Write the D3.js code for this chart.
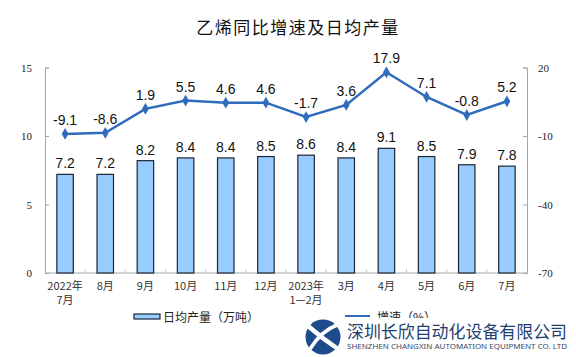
<!DOCTYPE html>
<html><head><meta charset="utf-8">
<script src="https://cdn.jsdelivr.net/npm/d3@7"></script>
<style>body{margin:0;background:#fff}svg{display:block}</style>
</head><body>
<svg id="c" width="576" height="357"></svg>
<script>
const categories = ["2022年|7月","8月","9月","10月","11月","12月","2023年|1—2月","3月","4月","5月","6月","7月"];
const output = [7.2,7.2,8.2,8.4,8.4,8.5,8.6,8.4,9.1,8.5,7.9,7.8];
const growth = [-9.1,-8.6,1.9,5.5,4.6,4.6,-1.7,3.6,17.9,7.1,-0.8,5.2];
const leftTicks = [0,5,10,15];
const rightTicks = [-70,-40,-10,20];

const svg = d3.select("#c");
const L = 45, R = 527, T = 67.5, B = 273;
const x = d3.scaleBand().domain(d3.range(categories.length)).range([L,R]).paddingInner(0.59).paddingOuter(0.295);
const xc = d3.scaleBand().domain(d3.range(categories.length)).range([L,R]);
const yL = d3.scaleLinear().domain([0,15]).range([B,T]);
const yR = d3.scaleLinear().domain([-70,20]).range([B,T]);

svg.append("text").attr("x",298).attr("y",34).attr("text-anchor","middle")
  .attr("font-family","Noto Sans CJK SC").attr("font-size",17).attr("letter-spacing",1.5).attr("fill","#111")
  .text("乙烯同比增速及日均产量");

// axes
const axC = "#a6a6a6";
const gl = svg.append("g").attr("transform",`translate(${L},0)`).call(d3.axisRight(yL).tickValues(leftTicks).tickSize(4).tickFormat(""));
gl.selectAll("path,line").attr("stroke",axC);
leftTicks.forEach(t=>svg.append("text").attr("x",32).attr("y",yL(t)+4).attr("text-anchor","end")
  .attr("font-family","Liberation Serif").attr("font-size",11).attr("fill","#222").text(t));
const gr = svg.append("g").attr("transform",`translate(${R},0)`).call(d3.axisLeft(yR).tickValues(rightTicks).tickSize(4).tickFormat(""));
gr.selectAll("path,line").attr("stroke",axC);
rightTicks.forEach(t=>svg.append("text").attr("x",538).attr("y",yR(t)+4).attr("text-anchor","start")
  .attr("font-family","Liberation Serif").attr("font-size",11).attr("fill","#222").text(t));
svg.append("line").attr("x1",L).attr("x2",R).attr("y1",B).attr("y2",B).attr("stroke",axC);
d3.range(1,categories.length).forEach(i=>svg.append("line").attr("x1",xc(i)).attr("x2",xc(i)).attr("y1",B).attr("y2",B-4).attr("stroke","#ccc"));

// bars
svg.selectAll("rect.bar").data(output).join("rect").attr("class","bar")
  .attr("x",(d,i)=>x(i)).attr("width",x.bandwidth()).attr("y",d=>yL(d)).attr("height",d=>B-yL(d))
  .attr("fill","#99ccff").attr("stroke","#1b2633").attr("stroke-width",1.2);
svg.selectAll("text.bl").data(output).join("text").attr("class","bl")
  .attr("x",(d,i)=>x(i)+x.bandwidth()/2).attr("y",d=>yL(d)-6).attr("text-anchor","middle")
  .attr("font-family","Liberation Sans").attr("font-size",14).attr("fill","#111").text(d=>d.toFixed(1));

// line
const cx = i=>x(i)+x.bandwidth()/2;
svg.append("path").datum(growth).attr("d",d3.line().x((d,i)=>cx(i)).y(d=>yR(d)))
  .attr("fill","none").attr("stroke","#2f6cbd").attr("stroke-width",2.5);
svg.selectAll("path.mk").data(growth).join("path").attr("class","mk")
  .attr("d",d3.symbol(d3.symbolDiamond,40)).attr("transform",(d,i)=>`translate(${cx(i)},${yR(d)})`).attr("fill","#2f6cbd");
svg.selectAll("text.ll").data(growth).join("text").attr("class","ll")
  .attr("x",(d,i)=>cx(i)).attr("y",d=>yR(d)-9).attr("text-anchor","middle")
  .attr("font-family","Liberation Sans").attr("font-size",14).attr("fill","#111").text(d=>d.toFixed(1));

// x labels
categories.forEach((c,i)=>{
  const parts=c.split("|");
  const t = svg.append("text").attr("text-anchor","middle")
    .attr("font-family","Noto Sans CJK SC").attr("font-size",11).attr("fill","#333");
  parts.forEach((p,j)=>t.append("tspan").attr("x",xc(i)+xc.bandwidth()/2).attr("y",290+j*13.5).text(p));
});

// legend
svg.append("rect").attr("x",134).attr("y",314).attr("width",26).attr("height",5).attr("fill","#99ccff").attr("stroke","#1b2633").attr("stroke-width",1.2);
svg.append("text").attr("x",163).attr("y",321.5).attr("font-family","Noto Sans CJK SC").attr("font-size",12).attr("fill","#222").text("日均产量（万吨）");
svg.append("line").attr("x1",345).attr("x2",370).attr("y1",316).attr("y2",316).attr("stroke","#2f6cbd").attr("stroke-width",2);
svg.append("text").attr("x",377).attr("y",321.5).attr("font-family","Noto Sans CJK SC").attr("font-size",12).attr("fill","#222").text("增速（%）");

// watermark
svg.append("rect").attr("x",300).attr("y",318).attr("width",276).attr("height",39).attr("fill","#fff");
const lg = svg.append("g").attr("transform","translate(323,337)");
lg.append("circle").attr("r",17.5).attr("fill","#1d4b8c");
lg.append("path").attr("d","M-15,-11 Q0,2 15,12").attr("stroke","#fff").attr("stroke-width",4.5).attr("fill","none");
lg.append("path").attr("d","M-13,12 Q-2,-6 14,-12").attr("stroke","#fff").attr("stroke-width",3.5).attr("fill","none");
svg.append("text").attr("x",347).attr("y",338).attr("textLength",220).attr("lengthAdjust","spacingAndGlyphs")
  .attr("font-family","Noto Sans CJK SC").attr("font-size",17.5).attr("fill","#1f3f72").text("深圳长欣自动化设备有限公司");
svg.append("text").attr("x",347).attr("y",348.5).attr("textLength",220).attr("lengthAdjust","spacingAndGlyphs")
  .attr("font-family","Noto Sans").attr("font-size",7).attr("fill","#3a4a66").text("SHENZHEN CHANGXIN AUTOMATION EQUIPMENT CO. LTD");
</script>
</body></html>
